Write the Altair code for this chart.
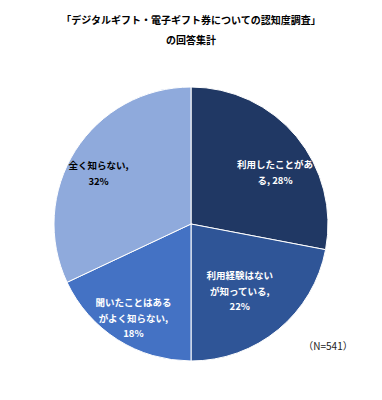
import altair as alt
import pandas as pd

categories = ["利用したことがある", "利用経験はないが知っている", "聞いたことはあるがよく知らない", "全く知らない"]
values = [28, 22, 18, 32]
label_texts = ["利用したことがあ\nる, 28%", "利用経験はない\nが知っている,\n22%", "聞いたことはある\nがよく知らない,\n18%", "全く知らない,\n32%"]
colors = ["#203864", "#2F5597", "#4472C4", "#8FAADC"]
label_colors = ["#ffffff", "#ffffff", "#ffffff", "#000000"]
label_offsets = [(7, 5), (-15, -25), (-4, -5), (-8, -4)]
title_lines = ["「デジタルギフト・電子ギフト券についての認知度調査」", "の回答集計"]
note = ["（N=541）"]

df = pd.DataFrame({
    "idx": list(range(len(categories))),
    "category": categories,
    "value": values,
    "label": label_texts,
})

FONT = "Noto Sans CJK JP"
base = alt.Chart(df)

arc = base.mark_arc(outerRadius=137, stroke="white", strokeWidth=1).encode(
    theta=alt.Theta("value:Q", stack=True, scale=alt.Scale(domain=[0, 100])),
    color=alt.Color("category:N", scale=alt.Scale(domain=categories, range=colors), legend=None),
    order=alt.Order("idx:Q"),
)

text_base = base.transform_window(
    cum="sum(value)", sort=[alt.SortField("idx")], frame=[None, 0]
).transform_calculate(mid="datum.cum - datum.value / 2")

layers = [arc]
for i in range(len(categories)):
    dx, dy = label_offsets[i]
    layers.append(
        text_base.transform_filter(f"datum.idx == {i}").mark_text(
            radius=100, dx=dx, dy=dy, align="center", baseline="middle",
            lineBreak="\n", lineHeight=15.5, font=FONT, fontSize=9.5,
            fontWeight="bold", color=label_colors[i],
        ).encode(
            theta=alt.Theta("mid:Q", stack=None, scale=alt.Scale(domain=[0, 100])),
            text="label:N",
        )
    )

note_df = pd.DataFrame({"t": note})
layers.append(
    alt.Chart(note_df).mark_text(font=FONT, fontSize=10, color="#222222", align="center", baseline="middle").encode(
        x=alt.value(320), y=alt.value(283), text="t:N"
    )
)

chart = alt.layer(*layers).properties(
    width=366,
    height=320,
    background="white",
    autosize=alt.AutoSizeParams(type="none"),
    padding={"left": 0, "top": 56, "right": 0, "bottom": 0},
    title=alt.Title(title_lines, font=FONT, fontSize=10, fontWeight="bold", color="#000000",
                    anchor="middle", offset=18, lineHeight=20),
).configure_view(stroke=None).configure_axis(
    domain=False, labels=False, ticks=False, grid=False
)

chart.save("out.html", embed_options={"renderer": "svg", "actions": False})
